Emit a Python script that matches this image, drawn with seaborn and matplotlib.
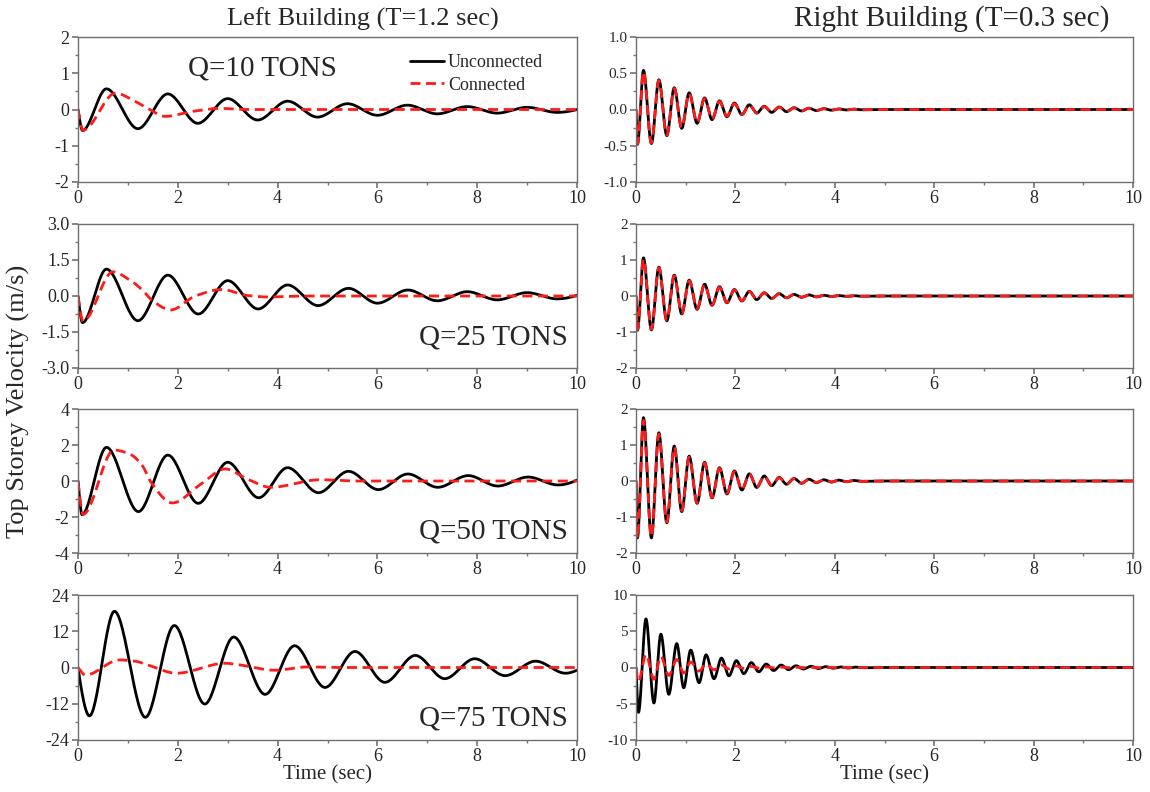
import matplotlib
matplotlib.use("Agg")
import matplotlib.pyplot as plt
import matplotlib.ticker as mticker
from matplotlib.lines import Line2D
import numpy as np
import seaborn as sns

# ---------------------------------------------------------------------------
# Values: turning points (time, velocity) of each curve
# ---------------------------------------------------------------------------

# Left building, Q = 10 t
L10_UNC_T = [0.0, 0.09, 0.57, 1.2, 1.8, 2.4, 3.0, 3.6, 4.2, 4.8, 5.4, 6.0, 6.6, 7.2, 7.8, 8.4, 9.0, 9.6, 10.0]
L10_UNC_V = [0.0, -0.58, 0.57, -0.53, 0.43, -0.38, 0.30, -0.29, 0.23, -0.21, 0.16, -0.16, 0.12, -0.12, 0.08, -0.10, 0.06, -0.08, 0.0]
L10_CON_T = [0.0, 0.10, 0.75, 1.15, 1.40, 1.75, 2.30, 2.85, 3.40, 10.0]
L10_CON_V = [0.0, -0.57, 0.45, 0.22, 0.03, -0.19, -0.05, 0.03, 0.0, 0.0]

# Left building, Q = 25 t
L25_UNC_T = [0.0, 0.09, 0.57, 1.2, 1.8, 2.41, 3.0, 3.61, 4.2, 4.81, 5.42, 6.0, 6.61, 7.2, 7.8, 8.4, 9.0, 9.6, 10.0]
L25_UNC_V = [0.0, -1.11, 1.12, -1.03, 0.87, -0.75, 0.64, -0.54, 0.46, -0.40, 0.32, -0.30, 0.25, -0.20, 0.18, -0.16, 0.14, -0.12, 0.03]
L25_CON_T = [0.0, 0.10, 0.70, 1.02, 1.29, 1.48, 1.86, 2.35, 2.88, 3.40, 3.80, 4.5, 10.0]
L25_CON_V = [0.0, -1.05, 1.01, 0.69, 0.25, -0.17, -0.58, 0.0, 0.27, 0.02, -0.04, 0.0, 0.0]

# Left building, Q = 50 t
L50_UNC_T = [0.0, 0.08, 0.57, 1.21, 1.8, 2.41, 3.0, 3.62, 4.2, 4.82, 5.42, 6.02, 6.61, 7.21, 7.82, 8.41, 9.02, 9.62, 10.0]
L50_UNC_V = [0.0, -1.87, 1.87, -1.70, 1.44, -1.24, 1.04, -0.93, 0.74, -0.65, 0.54, -0.48, 0.39, -0.35, 0.30, -0.28, 0.22, -0.22, 0.05]
L50_CON_T = [0.0, 0.10, 0.72, 1.06, 1.29, 1.47, 1.89, 2.45, 2.95, 3.40, 3.86, 4.85, 5.6, 10.0]
L50_CON_V = [0.0, -1.85, 1.72, 1.46, 0.85, -0.10, -1.22, -0.20, 0.67, 0.10, -0.35, 0.07, 0.0, 0.0]

# Left building, Q = 75 t
L75_UNC_T = [0.0, 0.23, 0.73, 1.35, 1.93, 2.54, 3.12, 3.75, 4.34, 4.95, 5.55, 6.15, 6.76, 7.35, 7.95, 8.56, 9.17, 9.77, 10.0]
L75_UNC_V = [0.0, -16.0, 18.6, -16.5, 13.9, -12.1, 10.1, -8.9, 7.2, -6.6, 5.3, -4.9, 4.0, -3.7, 2.9, -2.7, 2.1, -1.9, -0.9]
L75_CON_T = [0.0, 0.15, 0.83, 1.14, 1.44, 1.97, 2.95, 3.26, 3.94, 4.6, 5.2, 10.0]
L75_CON_V = [0.0, -2.5, 2.5, 2.1, 0.6, -1.9, 1.4, 0.8, -0.9, 0.2, 0.0, 0.0]

# Right building turning-point times (Q = 10, 25, 50 t)
R_T = [0.0, 0.03, 0.15, 0.31, 0.46, 0.62, 0.77, 0.92, 1.07, 1.23, 1.38, 1.53,
       1.68, 1.83, 1.98, 2.13, 2.28, 2.43, 2.58, 2.73, 2.88, 3.03,
       3.18, 3.33, 3.48, 3.63, 3.78, 3.93, 4.08, 4.23, 4.38, 4.53, 5.0, 10.0]

R10_UNC_V = [0.0, -0.48, 0.54, -0.47, 0.41, -0.36, 0.30, -0.26, 0.23, -0.19, 0.16, -0.14,
             0.12, -0.10, 0.09, -0.07, 0.065, -0.05, 0.045, -0.04, 0.035, -0.03,
             0.025, -0.02, 0.018, -0.015, 0.012, -0.01, 0.008, -0.006, 0.005, -0.004, 0.0, 0.0]
R10_CON_V = [0.0, -0.47, 0.52, -0.46, 0.40, -0.35, 0.29, -0.25, 0.22, -0.18, 0.15, -0.13,
             0.11, -0.09, 0.08, -0.065, 0.06, -0.045, 0.04, -0.035, 0.03, -0.025,
             0.02, -0.018, 0.015, -0.012, 0.01, -0.008, 0.006, -0.005, 0.004, -0.003, 0.0, 0.0]

R25_UNC_V = [0.0, -0.95, 1.06, -0.94, 0.80, -0.69, 0.58, -0.50, 0.44, -0.37, 0.33, -0.26,
             0.26, -0.19, 0.18, -0.14, 0.13, -0.10, 0.09, -0.07, 0.065, -0.05,
             0.045, -0.035, 0.03, -0.025, 0.02, -0.015, 0.012, -0.01, 0.008, -0.006, 0.0, 0.0]
R25_CON_V = [0.0, -0.93, 1.02, -0.92, 0.78, -0.67, 0.56, -0.48, 0.42, -0.35, 0.31, -0.25,
             0.24, -0.18, 0.17, -0.13, 0.12, -0.09, 0.085, -0.065, 0.06, -0.045,
             0.04, -0.032, 0.028, -0.022, 0.018, -0.014, 0.011, -0.009, 0.007, -0.005, 0.0, 0.0]

R50_UNC_V = [0.0, -1.58, 1.76, -1.58, 1.34, -1.16, 0.97, -0.85, 0.69, -0.62, 0.52, -0.47,
             0.37, -0.36, 0.28, -0.25, 0.20, -0.18, 0.14, -0.13, 0.10, -0.09,
             0.07, -0.065, 0.05, -0.045, 0.035, -0.03, 0.025, -0.02, 0.015, -0.01, 0.0, 0.0]
R50_CON_V = [0.0, -1.60, 1.68, -1.55, 1.30, -1.14, 0.94, -0.82, 0.66, -0.60, 0.50, -0.45,
             0.35, -0.34, 0.26, -0.24, 0.19, -0.17, 0.13, -0.12, 0.09, -0.085,
             0.065, -0.06, 0.045, -0.04, 0.032, -0.028, 0.022, -0.018, 0.013, -0.009, 0.0, 0.0]

# Right building, Q = 75 t
R75_T = [0.0, 0.05, 0.20, 0.36, 0.50, 0.66, 0.82, 0.96, 1.10, 1.27, 1.41, 1.57,
         1.72, 1.87, 2.02, 2.17, 2.32, 2.47, 2.62, 2.77, 2.92, 3.07,
         3.22, 3.37, 3.52, 3.67, 3.82, 3.97, 4.12, 4.27, 4.42, 4.57, 5.0, 10.0]
R75_UNC_V = [0.0, -6.2, 6.7, -4.9, 4.6, -3.7, 3.3, -2.8, 2.4, -2.1, 1.75, -1.55,
             1.3, -1.15, 0.95, -0.85, 0.68, -0.6, 0.48, -0.42, 0.34, -0.3,
             0.24, -0.21, 0.17, -0.15, 0.12, -0.1, 0.08, -0.07, 0.05, -0.04, 0.0, 0.0]
R75_CON_V = [0.0, -1.9, 1.8, -1.6, 1.5, -1.1, 1.1, -0.75, 0.75, -0.5, 0.5, -0.32,
             0.33, -0.2, 0.22, -0.13, 0.14, -0.08, 0.09, -0.05, 0.05, -0.03,
             0.03, -0.02, 0.02, -0.012, 0.012, -0.008, 0.008, -0.005, 0.005, -0.003, 0.0, 0.0]

Q_LABELS = ["Q=10 TONS", "Q=25 TONS", "Q=50 TONS", "Q=75 TONS"]
LEFT_YLIM = [(-2, 2, 1, 0.5, "%d"), (-3, 3, 1.5, 0.75, "%.1f"), (-4, 4, 2, 1, "%d"), (-24, 24, 12, 6, "%d")]
RIGHT_YLIM = [(-1, 1, 0.5, 0.25, "%.1f"), (-2, 2, 1, 0.5, "%d"), (-2, 2, 1, 0.5, "%d"), (-10, 10, 5, 2.5, "%d")]

LEFT = [(L10_UNC_T, L10_UNC_V, L10_CON_T, L10_CON_V),
        (L25_UNC_T, L25_UNC_V, L25_CON_T, L25_CON_V),
        (L50_UNC_T, L50_UNC_V, L50_CON_T, L50_CON_V),
        (L75_UNC_T, L75_UNC_V, L75_CON_T, L75_CON_V)]
RIGHT = [(R_T, R10_UNC_V, R_T, R10_CON_V),
         (R_T, R25_UNC_V, R_T, R25_CON_V),
         (R_T, R50_UNC_V, R_T, R50_CON_V),
         (R75_T, R75_UNC_V, R75_T, R75_CON_V)]


def _edge(h0, h1, m0, m1):
    d = ((2 * h0 + h1) * m0 - h0 * m1) / (h0 + h1)
    if np.sign(d) != np.sign(m0):
        return 0.0
    if np.sign(m0) != np.sign(m1) and abs(d) > 3 * abs(m0):
        return 3 * m0
    return d


def smooth(t, v, n=30):
    """Draw a smooth monotone (PCHIP-style) line through the read turning points."""
    x = np.asarray(t, float)
    y = np.asarray(v, float)
    h = np.diff(x)
    d = np.diff(y) / h
    m = np.zeros_like(y)
    for k in range(1, len(x) - 1):
        if d[k - 1] * d[k] > 0:
            w1 = 2 * h[k] + h[k - 1]
            w2 = h[k] + 2 * h[k - 1]
            m[k] = (w1 + w2) / (w1 / d[k - 1] + w2 / d[k])
    m[0] = _edge(h[0], h[1], d[0], d[1])
    m[-1] = _edge(h[-1], h[-2], d[-1], d[-2])
    xs, ys = [], []
    s = np.linspace(0, 1, n, endpoint=False)
    for k in range(len(h)):
        h00 = 2 * s**3 - 3 * s**2 + 1
        h10 = s**3 - 2 * s**2 + s
        h01 = -2 * s**3 + 3 * s**2
        h11 = s**3 - s**2
        xs.append(x[k] + s * h[k])
        ys.append(h00 * y[k] + h10 * h[k] * m[k] + h01 * y[k + 1] + h11 * h[k] * m[k + 1])
    xs.append([x[-1]])
    ys.append([y[-1]])
    return np.concatenate(xs), np.concatenate(ys)


sns.set_theme(style="ticks")
plt.rcParams["font.family"] = ["Liberation Serif", "DejaVu Serif"]

fig = plt.figure(figsize=(11.5, 7.92), dpi=100)

W, H = 1150, 792
COLS = [(78, 577), (636, 1133)]
ROWS = [(37, 182), (224, 368), (409, 553), (595, 740)]
DASH = (0, (3.6, 2.0))

for c, (x0, x1) in enumerate(COLS):
    panels = LEFT if c == 0 else RIGHT
    ylims = LEFT_YLIM if c == 0 else RIGHT_YLIM
    for r, (y0, y1) in enumerate(ROWS):
        ax = fig.add_axes([x0 / W, 1 - y1 / H, (x1 - x0) / W, (y1 - y0) / H])
        tu, vu, tc, vc = panels[r]
        xu, yu = smooth(tu, vu)
        xc, yc = smooth(tc, vc)
        sns.lineplot(x=xu, y=yu, ax=ax, color="black", linewidth=2.0, sort=False, estimator=None)
        sns.lineplot(x=xc, y=yc, ax=ax, color="#ff1a1a", linewidth=2.0, linestyle=DASH,
                     sort=False, estimator=None)

        lo, hi, step, minor, fmt = ylims[r]
        ax.set_xlim(0, 10)
        ax.set_ylim(lo, hi)
        ax.xaxis.set_major_locator(mticker.MultipleLocator(2))
        ax.xaxis.set_minor_locator(mticker.MultipleLocator(1))
        ax.yaxis.set_major_locator(mticker.MultipleLocator(step))
        ax.yaxis.set_minor_locator(mticker.MultipleLocator(minor))
        ax.yaxis.set_major_formatter(mticker.FormatStrFormatter(fmt))
        ax.tick_params(axis="x", which="major", labelsize=13, length=4, color="#777777", pad=2)
        ax.tick_params(axis="y", which="major", labelsize=13 if c == 0 else 11,
                       length=4, color="#777777", pad=2)
        ax.tick_params(which="minor", length=2.5, color="#777777")
        for sp in ax.spines.values():
            sp.set_color("#6e6e6e")
            sp.set_linewidth(1.0)
        ax.set_ylabel("")
        ax.set_xlabel("Time (sec)" if r == 3 else "", fontsize=15, labelpad=0)

        if c == 0:
            if r == 0:
                ax.text(0.22, 0.78, Q_LABELS[r], transform=ax.transAxes, fontsize=21,
                        ha="left", va="center")
                handles = [Line2D([], [], color="black", linewidth=2.0),
                           Line2D([], [], color="#ff1a1a", linewidth=2.0, linestyle=DASH)]
                ax.legend(handles, ["Unconnected", "Connected"], loc="upper left",
                          bbox_to_anchor=(0.665, 0.88), frameon=False, fontsize=13,
                          handlelength=1.9, handletextpad=0.2, labelspacing=0.3,
                          borderpad=0, borderaxespad=0)
            else:
                ax.text(0.982, 0.21 if r == 1 else 0.15, Q_LABELS[r], transform=ax.transAxes,
                        fontsize=21, ha="right", va="center")

fig.text(363 / W, 1 - 19 / H, "Left Building (T=1.2 sec)", fontsize=19, ha="center", va="center")
fig.text(952 / W, 1 - 19 / H, "Right Building (T=0.3 sec)", fontsize=21, ha="center", va="center")
fig.text(18 / W, 1 - 401 / H, "Top Storey Velocity (m/s)", fontsize=19, rotation=90,
         ha="center", va="center")

fig.savefig("out.png", dpi=100)
